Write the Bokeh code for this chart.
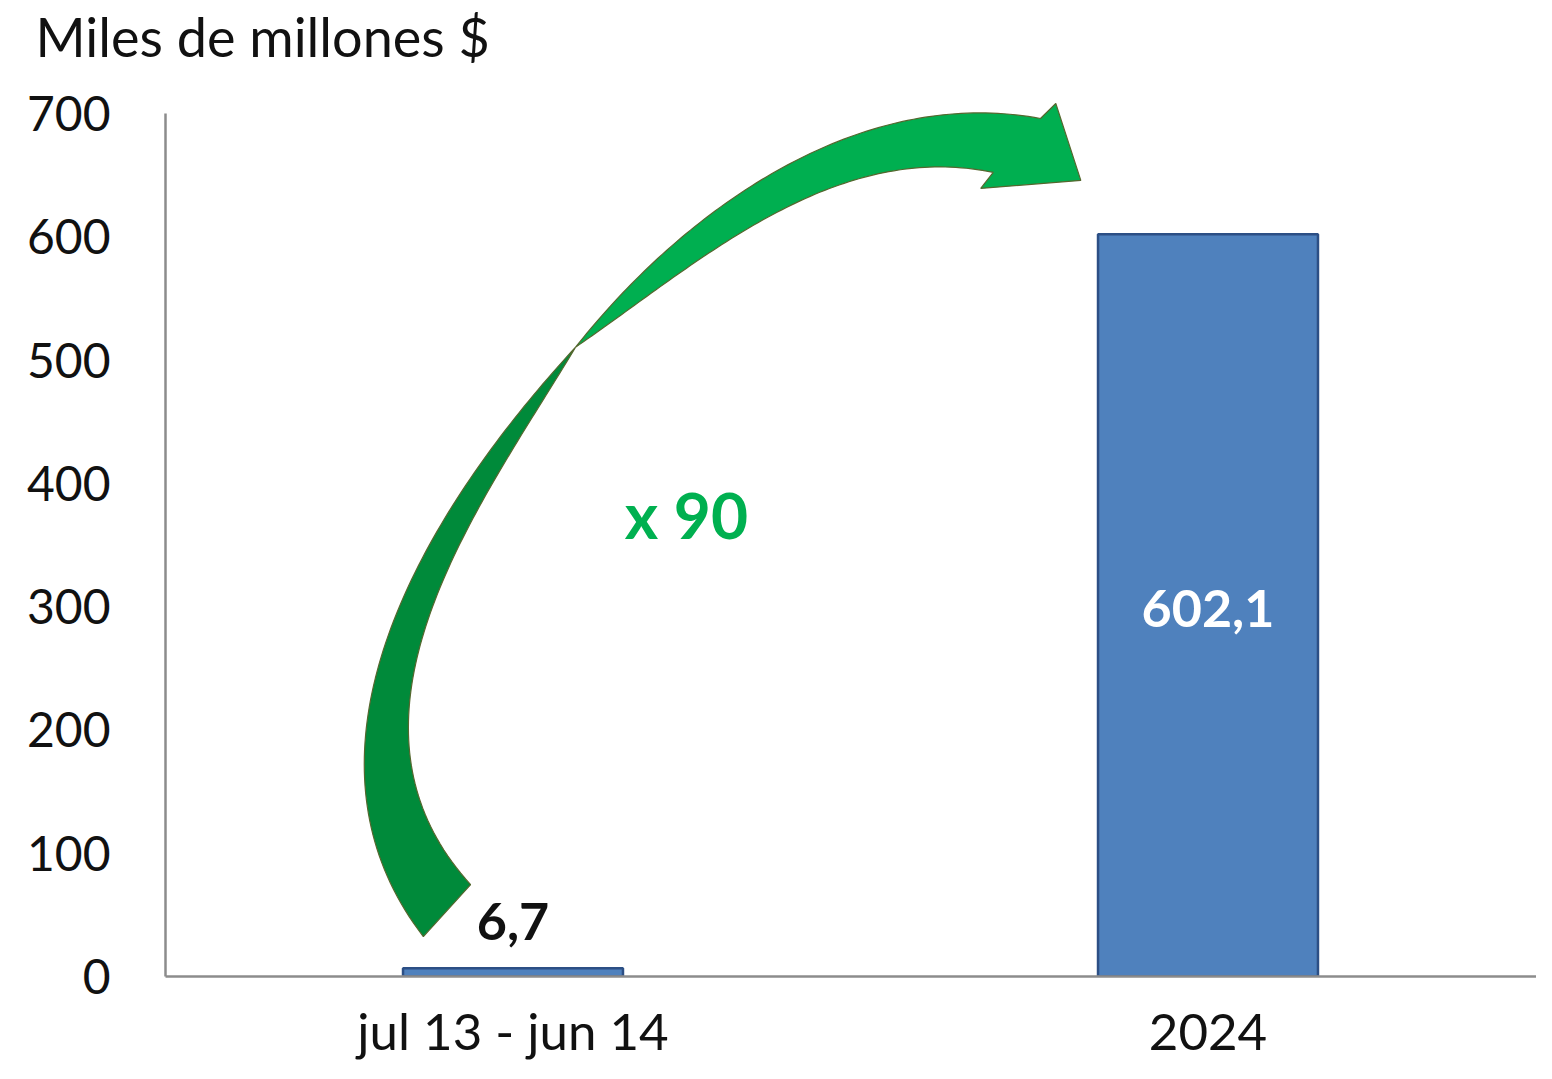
import numpy as np
from bokeh.plotting import figure
from bokeh.models import Range1d, Label, FixedTicker, ColumnDataSource
from bokeh.embed import file_html
from bokeh.resources import INLINE
from bokeh.core.properties import value

# ---------------- data ----------------
categories = ["jul 13 - jun 14", "2024"]
amounts = [6.7, 602.1]
amount_labels = ["6,7", "602,1"]
y_ticks = [0, 100, 200, 300, 400, 500, 600, 700]
y_title = "Miles de millones $"
growth_label = "x 90"

FONT = "Lato"
x_pos = [0.5, 1.5]

# ---------------- layout constants ----------------
PX_X = 695.0            # pixels per category unit
PX_Y = 864.0 / 700.0    # pixels per value unit
W, H = 1536, 1063
LEFT, BOTTOM_Y = 165, 977
TOP_Y = 68

# ---------------- arrow shape (annotation, in data units) ----------------
arrow_lower_outer = [(0.590, 510.4), (0.515, 461.8), (0.443, 408.3), (0.371, 337.8), (0.319, 273.0),
                     (0.299, 226.8), (0.283, 173.4), (0.282, 151.5), (0.291, 127.2), (0.314, 92.4),
                     (0.348, 51.9), (0.371, 32.4)]
arrow_lower_inner = [(0.439, 74.5), (0.406, 97.2), (0.371, 132.9), (0.353, 173.4), (0.350, 213.9),
                     (0.367, 277.1), (0.410, 337.8), (0.478, 402.7), (0.540, 461.8), (0.590, 510.4)]
arrow_upper_top = [(0.590, 510.4), (0.683, 567.1), (0.827, 637.6), (0.971, 675.7), (1.115, 698.4),
                   (1.158, 701.6), (1.209, 701.6), (1.259, 695.9)]
arrow_head = [(1.281, 708.1), (1.317, 645.7), (1.173, 639.2)]
arrow_upper_bottom = [(1.191, 652.2), (1.140, 657.1), (1.068, 656.3), (0.971, 640.0),
                      (0.827, 605.2), (0.683, 546.1), (0.590, 510.4)]


def bezier_fit(pts, n=90):
    """Smooth a hand-read edge with a least-squares cubic Bezier (ends fixed)."""
    P = np.asarray(pts, float) * np.array([PX_X, PX_Y])
    d = np.r_[0, np.cumsum(np.hypot(*np.diff(P, axis=0).T))]
    t = d / d[-1]
    b0, b1, b2, b3 = (1 - t) ** 3, 3 * (1 - t) ** 2 * t, 3 * (1 - t) * t ** 2, t ** 3
    rhs = P - np.outer(b0, P[0]) - np.outer(b3, P[-1])
    C, *_ = np.linalg.lstsq(np.c_[b1, b2], rhs, rcond=None)
    tt = np.linspace(0, 1, n)[:, None]
    curve = ((1 - tt) ** 3 * P[0] + 3 * (1 - tt) ** 2 * tt * C[0]
             + 3 * (1 - tt) * tt ** 2 * C[1] + tt ** 3 * P[-1])
    return curve / np.array([PX_X, PX_Y])


lower = np.vstack([bezier_fit(arrow_lower_outer), bezier_fit(arrow_lower_inner)])
upper = np.vstack([bezier_fit(arrow_upper_top), np.array(arrow_head), bezier_fit(arrow_upper_bottom)])

# ---------------- figure ----------------
p = figure(width=W, height=H, output_backend="svg", toolbar_location=None,
           x_range=Range1d(0, (W - LEFT) / PX_X),
           y_range=Range1d(0, (BOTTOM_Y - TOP_Y) / PX_Y),
           min_border_left=LEFT, min_border_right=0, min_border_top=TOP_Y,
           min_border_bottom=H - BOTTOM_Y)
p.outline_line_color = None
p.grid.grid_line_color = None
p.background_fill_color = "white"

p.title.text = y_title
p.title.align = "left"
p.title.vertical_align = "bottom"
p.title.offset = 35 - LEFT
p.title.standoff = 0
p.title.text_font = FONT
p.title.text_font_size = "54px"
p.title.text_font_style = "normal"
p.title.text_color = "#111111"

# bars
src = ColumnDataSource(dict(x=x_pos, top=amounts))
p.vbar(x="x", top="top", bottom=0, width=0.3165, source=src,
       fill_color="#4F81BD", line_color="#2C4F85", line_width=2.5)

# arrow
p.patch(lower[:, 0], lower[:, 1], fill_color="#008A3A", line_color="#55672E", line_width=1.2)
p.patch(upper[:, 0], upper[:, 1], fill_color="#00AF50", line_color="#55672E", line_width=1.2)

# value labels
p.text(x=[x_pos[0]], y=[amounts[0] + 47 / PX_Y], text=[amount_labels[0]],
       text_align="center", text_baseline="middle", text_font=value(FONT),
       text_font_style="bold", text_font_size="52px", text_color="#111111")
p.text(x=[x_pos[1]], y=[amounts[1] / 2 - 3 / PX_Y], text=[amount_labels[1]],
       text_align="center", text_baseline="middle", text_font=value(FONT),
       text_font_style="bold", text_font_size="52px", text_color="white")

p.add_layout(Label(x=0.7496, y=375.0, text=growth_label, text_align="center",
                   text_baseline="middle", text_font=FONT, text_font_style="bold",
                   text_font_size="64px", text_color="#00B050"))

# axes
xa = p.xaxis[0]
xa.ticker = FixedTicker(ticks=x_pos)
xa.major_label_overrides = {x_pos[i]: categories[i] for i in range(len(categories))}
xa.axis_line_color = "#8C8C8C"
xa.axis_line_width = 2.5
xa.major_tick_line_color = None
xa.minor_tick_line_color = None
xa.major_tick_out = 0
xa.major_tick_in = 0
xa.major_label_standoff = 23
xa.major_label_text_font = FONT
xa.major_label_text_font_size = "51px"
xa.major_label_text_color = "#111111"

ya = p.yaxis[0]
ya.ticker = FixedTicker(ticks=y_ticks)
ya.bounds = (0, 700)
ya.axis_line_color = "#8C8C8C"
ya.axis_line_width = 2.5
ya.major_tick_line_color = None
ya.minor_tick_line_color = None
ya.major_tick_out = 0
ya.major_tick_in = 0
ya.major_label_standoff = 55
ya.major_label_text_font = FONT
ya.major_label_text_font_size = "48px"
ya.major_label_text_color = "#111111"

open("out.html", "w").write(file_html(p, INLINE))
